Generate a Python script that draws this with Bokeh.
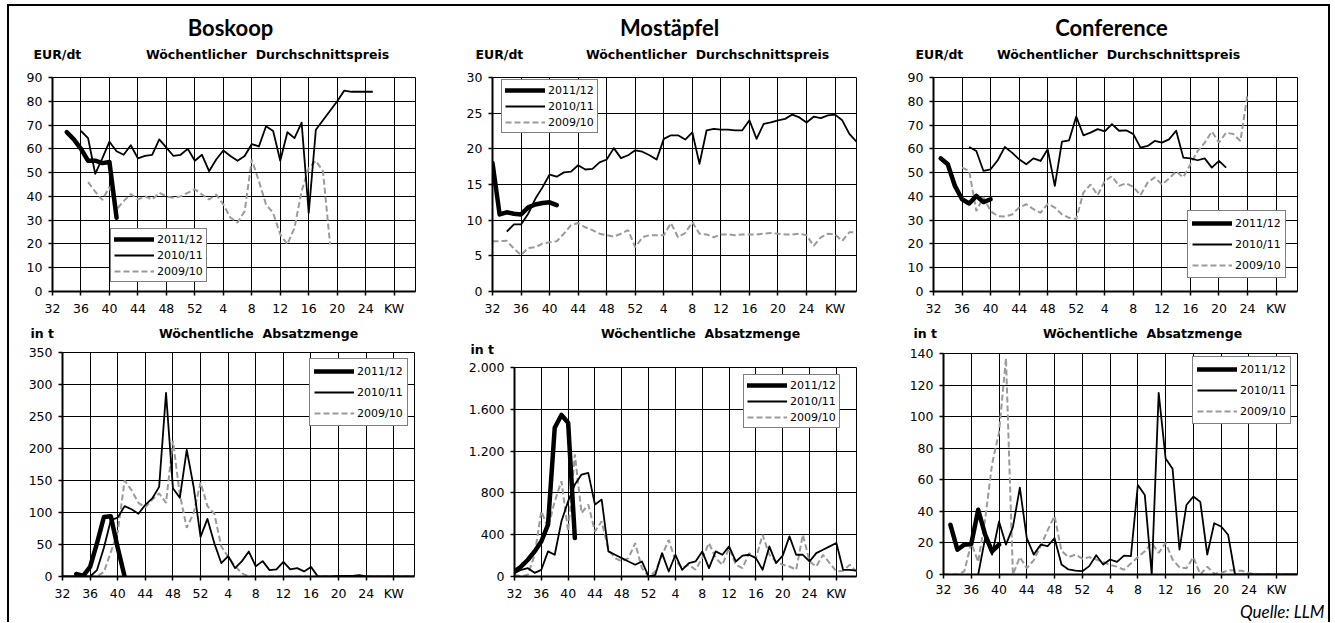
from bokeh.plotting import figure
from bokeh.models import Range1d, FixedTicker, Label, Legend, LegendItem
from bokeh.layouts import row, column
from bokeh.embed import file_html
from bokeh.resources import INLINE

# ---------------- data ----------------
x_tick_pos = [0, 4, 8, 12, 16, 20, 24, 28, 32, 36, 40, 44, 48]
x_tick_labels = ["32", "36", "40", "44", "48", "52", "4", "8", "12", "16", "20", "24", "KW"]
series_labels = ["2011/12", "2010/11", "2009/10"]

# Boskoop price (EUR/dt), series start weeks
bos_p_1112_start = 34
bos_p_1112 = [67, 64, 60, 55, 55, 54, 54.5, 31]
bos_p_1011_start = 36
bos_p_1011 = [67.5, 64.5, 49.5, 56, 63, 59, 57.5, 61.5, 56, 57, 57.5, 64, 60.5, 57, 57.5, 60, 55,
              57.5, 50.6, 55.5, 59.3, 57, 55, 57, 62, 61, 69.5, 67.5, 55, 67, 64.5, 71, 33, 68, 72, 76,
              80, 84.5, 84, 84, 84, 84]
bos_p_0910_start = 37
bos_p_0910 = [46, 42, 38.5, 44, 34.5, 38, 41, 38.7, 40, 38.7, 41.5, 40, 39.4, 40, 41.5, 43,
              40.8, 38.7, 40.8, 36.6, 31, 29, 33.8, 55.5, 46.4, 36.6, 33, 24, 19.8, 26.8, 42.2, 52,
              55, 50.6, 19.8]

# Mostaepfel price
mos_p_1112_start = 32
mos_p_1112 = [18, 10.8, 11.1, 10.9, 10.8, 11.8, 12.2, 12.4, 12.5, 12.1]
mos_p_1011_start = 34
mos_p_1011 = [8.4, 9.4, 9.4, 10.9, 13, 14.6, 16.4, 16.1, 16.7, 16.8, 17.7, 17.1, 17.2, 18.1, 18.5,
              20.1, 18.7, 19.1, 19.8, 19.6, 19.1, 18.5, 21.4, 21.9, 21.9, 21.3, 22.3, 17.9, 22.6,
              22.8, 22.7, 22.7, 22.6, 22.6, 24, 21.4, 23.5, 23.7, 24, 24.2, 24.8, 24.4, 23.7, 24.5,
              24.3, 24.7, 24.8, 24, 22.1, 21]
mos_p_0910_start = 32
mos_p_0910 = [7.05, 7.05, 7.1, 6, 5.1, 6.1, 6.2, 6.7, 6.9, 7.05, 8.1, 9.3, 9.6, 9.0, 8.6, 8.1, 7.9,
              7.7, 8.1, 8.6, 6.2, 7.6, 7.9, 7.9, 7.9, 9.6, 7.6, 8.2, 9.7, 8.1, 8.0, 7.6, 8.0, 8.0,
              7.9, 8.0, 8.0, 8.0, 8.1, 8.2, 8.1, 8.0, 8.0, 8.1, 7.9, 6.4, 7.6, 8.1, 8.0, 7.1, 8.3, 8.3]

# Conference price
con_p_1112_start = 33
con_p_1112 = [56, 53.5, 44.4, 38.8, 37, 40.2, 37.6, 38.8]
con_p_1011_start = 37
con_p_1011 = [60.8, 59.1, 50.7, 51.4, 55.2, 60.8, 58.4, 55.6, 53.5, 56, 54.9, 59.8, 44.4, 63, 63.6,
              73.6, 65.7, 66.8, 68.3, 67.3, 70.4, 67.6, 67.8, 66.2, 60.5, 61.2, 63.3, 62.6, 64, 67.6,
              56.3, 56, 55.2, 56, 52.1, 54.9, 52.1]
con_p_0910_start = 36
con_p_0910 = [52.1, 50.7, 33.8, 39.7, 33.8, 31.7, 31.5, 32.4, 35.3, 36.7, 34.6, 33.1, 36.9, 35.3,
              32.4, 31, 30.5, 41.6, 45, 40.5, 46.5, 48.5, 44.4, 45.5, 44, 40.5, 45.8, 48, 45, 47.5,
              50.5, 48, 53.5, 59, 62.6, 67.3, 62.6, 66.8, 66.2, 63.3, 83]

# Boskoop volume (t)
bos_v_1112_start = 34
bos_v_1112 = [4, 1, 15, 52, 93, 94, 45, 0]
bos_v_1011_start = 32
bos_v_1011 = [0, 0, 0, 0, 0, 10, 45, 88, 92, 110, 105, 98, 112, 122, 140, 287, 138, 123, 198, 140,
              62, 90, 52, 21, 32, 13, 24, 39, 16, 24, 10, 11, 23, 11, 13, 8, 15, 0, 0, 0, 1, 1, 1, 2,
              0, 0, 0, 0, 0, 0, 0, 0]
bos_v_0910_start = 32
bos_v_0910 = [0, 0, 0, 0, 0, 0, 7, 38, 69, 150, 135, 115, 108, 120, 130, 115, 212, 128, 76, 99, 147,
              110, 98, 47, 31, 16, 5, 0, 0, 0, 0, 0, 0, 0, 0, 0, 0, 0, 0, 0, 0, 0, 0, 0, 0, 0, 0, 0,
              0, 0, 0, 0]

# Mostaepfel volume (t)
mos_v_1112_start = 32
mos_v_1112 = [48, 96, 160, 240, 336, 496, 1424, 1546, 1472, 368]
mos_v_1011_start = 32
mos_v_1011 = [32, 64, 80, 35, 64, 240, 208, 528, 720, 880, 976, 992, 688, 736, 240, 208, 176, 144,
              112, 144, 0, 16, 224, 48, 208, 64, 128, 144, 240, 80, 240, 208, 288, 144, 200, 208,
              176, 64, 288, 128, 200, 384, 208, 208, 144, 224, 256, 288, 320, 64, 64, 56]
mos_v_0910_start = 32
mos_v_0910 = [16, 0, 16, 208, 624, 464, 720, 912, 432, 1168, 608, 688, 432, 528, 256, 176, 144, 176,
              320, 80, 0, 48, 200, 350, 150, 80, 112, 64, 176, 320, 176, 112, 272, 112, 80, 224, 176,
              400, 208, 144, 112, 96, 64, 400, 144, 96, 208, 128, 48, 56, 112, 48]

# Conference volume (t)
con_v_1112_start = 33
con_v_1112 = [31.5, 15.7, 18.9, 19.3, 41, 25.2, 14.7, 18.9]
con_v_1011_start = 37
con_v_1011 = [0, 23, 12.6, 33.6, 18.9, 30, 55, 23, 12.6, 18.9, 17.9, 23, 6.3, 3.2, 2.5, 2.1, 5.3,
              12.2, 6.3, 9.5, 8, 12, 11.6, 56.7, 50.4, 0, 115, 73.5, 67, 15.7, 44, 49.4, 46, 12.6,
              32.5, 30.4, 25.2, 0, 0, 0, 0, 0, 0, 0, 0, 0, 0]
con_v_0910_start = 32
con_v_0910 = [0, 0, 0, 2, 20, 8, 35, 70, 90, 137, 0, 11, 4, 9, 18, 28, 37, 15, 11, 12.6, 10, 11, 9.5,
              8, 6, 5, 3, 7, 11, 14.7, 20, 13.7, 20, 9.5, 4.5, 4, 11, 0, 5, 0.5, 1, 2.7, 2.5, 2.3, 1,
              0, 0, 0, 0, 0, 0, 0]

mos_v_tick_labels = {0: "0", 400: "400", 800: "800", 1200: "1.200", 1600: "1.600", 2000: "2.000"}

# ---------------- helpers ----------------
GRAY = "#9a9a9a"
TICK_FONT = "DejaVu Sans"


def week_index(w):
    return w - 32 if w >= 32 else w + 20


def xs(start, vals):
    s = week_index(start)
    return list(range(s, s + len(vals)))


def no_align(p):
    if "frame_align" in p.properties():
        p.frame_align = False


def make_fig(w, h, bl, br, bt, bb, ymax, ystep, ylab=None, xstand=5):
    p = figure(width=w, height=h, output_backend="svg", toolbar_location=None,
               x_range=Range1d(0, 51), y_range=Range1d(0, ymax),
               min_border_left=bl, min_border_right=br, min_border_top=bt, min_border_bottom=bb)
    no_align(p)
    p.title.visible = False
    p.xaxis.ticker = FixedTicker(ticks=x_tick_pos)
    p.xaxis.major_label_overrides = {k: v for k, v in zip(x_tick_pos, x_tick_labels)}
    yt = list(range(0, ymax + 1, ystep))
    p.yaxis.ticker = FixedTicker(ticks=yt)
    if ylab:
        p.yaxis.major_label_overrides = ylab
    for ax in (p.xaxis[0], p.yaxis[0]):
        ax.axis_line_width = 2
        ax.axis_line_color = "black"
        ax.major_tick_out = 4
        ax.major_tick_in = 0
        ax.major_tick_line_width = 1.5
        ax.major_tick_line_color = "black"
        ax.minor_tick_line_color = None
        ax.major_label_text_font = TICK_FONT
        ax.major_label_text_font_size = "12.5px"
        ax.major_label_text_color = "black"
        ax.major_label_standoff = 6
    p.xaxis[0].major_label_standoff = xstand
    p.grid.grid_line_color = "black"
    p.grid.grid_line_width = 1
    p.grid.grid_line_alpha = 1
    p.outline_line_color = "black"
    p.outline_line_width = 1
    p.background_fill_color = "white"
    p.border_fill_color = "white"
    return p


def text_fig(w, h):
    p = figure(width=w, height=h, output_backend="svg", toolbar_location=None,
               x_range=Range1d(0, w), y_range=Range1d(h, 0),
               x_axis_type=None, y_axis_type=None,
               min_border_left=0, min_border_right=0, min_border_top=0, min_border_bottom=0)
    no_align(p)
    p.title.visible = False
    p.outline_line_color = None
    p.background_fill_color = "white"
    p.border_fill_color = "white"
    return p


def add_series(p, data, leg_loc, tall):
    (s1, v1), (s2, v2), (s3, v3) = data
    r3 = p.line(xs(s3, v3), v3, line_color=GRAY, line_width=2, line_dash="6 3")
    r2 = p.line(xs(s2, v2), v2, line_color="black", line_width=1.8, line_join="round")
    r1 = p.line(xs(s1, v1), v1, line_color="black", line_width=4.5, line_join="round", line_cap="round")
    items = [LegendItem(label=series_labels[0], renderers=[r1]),
             LegendItem(label=series_labels[1], renderers=[r2]),
             LegendItem(label=series_labels[2], renderers=[r3])]
    leg = Legend(items=items, location=leg_loc, margin=0,
                 border_line_color="black", border_line_width=1,
                 background_fill_color="white", background_fill_alpha=1,
                 label_text_font=TICK_FONT, label_text_font_size="11px", label_text_color="black",
                 glyph_width=40, label_standoff=3,
                 glyph_height=16 if tall else 14, label_height=16 if tall else 14,
                 spacing=5 if tall else 2, padding=4 if tall else 3)
    p.add_layout(leg)


def add_text(p, x, y, text, size, font=TICK_FONT, style="bold", align="left", baseline="middle"):
    p.add_layout(Label(x=x, y=y, text=text,
                       text_font=font, text_font_size=size, text_font_style=style,
                       text_align=align, text_baseline=baseline, text_color="black"))


SUB_P = "Wöchentlicher\u00a0 Durchschnittspreis"
SUB_V = "Wöchentliche\u00a0 Absatzmenge"
SUB_SIZE = "12.5px"

# ---------------- top row: prices ----------------
h_tl = text_fig(439, 62)
add_text(h_tl, 221, 21, "Boskoop", "22px", font="Lato", align="center")
add_text(h_tl, 24, 48, "EUR/dt", SUB_SIZE)
add_text(h_tl, 258, 48, SUB_P, SUB_SIZE, align="center")
tl = make_fig(439, 250, 43, 33, 9, 27, 90, 10)
add_series(tl, [(bos_p_1112_start, bos_p_1112), (bos_p_1011_start, bos_p_1011),
                (bos_p_0910_start, bos_p_0910)], (58, 9), False)

h_tm = text_fig(440, 62)
add_text(h_tm, 221, 21, "Mostäpfel", "22px", font="Lato", align="center")
add_text(h_tm, 27, 48, "EUR/dt", SUB_SIZE)
add_text(h_tm, 259, 48, SUB_P, SUB_SIZE, align="center")
tm = make_fig(440, 250, 44, 32, 9, 27, 30, 5)
add_series(tm, [(mos_p_1112_start, mos_p_1112), (mos_p_1011_start, mos_p_1011),
                (mos_p_0910_start, mos_p_0910)], (9, 158), False)

h_tr = text_fig(440, 62)
add_text(h_tr, 223, 21, "Conference", "22px", font="Lato", align="center")
add_text(h_tr, 27, 48, "EUR/dt", SUB_SIZE)
add_text(h_tr, 230, 48, SUB_P, SUB_SIZE, align="center")
tr = make_fig(440, 250, 45, 31, 9, 27, 90, 10)
add_series(tr, [(con_p_1112_start, con_p_1112), (con_p_1011_start, con_p_1011),
                (con_p_0910_start, con_p_0910)], (254, 13), True)

# ---------------- bottom row: volumes ----------------
h_bl = text_fig(439, 25)
add_text(h_bl, 21, 15, "in t", SUB_SIZE)
add_text(h_bl, 249, 15, SUB_V, SUB_SIZE, align="center")
bl = make_fig(439, 279, 53, 34, 9, 46, 350, 50)
add_series(bl, [(bos_v_1112_start, bos_v_1112), (bos_v_1011_start, bos_v_1011),
                (bos_v_0910_start, bos_v_0910)], (247, 150), True)

h_bm = text_fig(440, 40)
add_text(h_bm, 252, 15, SUB_V, SUB_SIZE, align="center")
add_text(h_bm, 22, 31, "in t", SUB_SIZE)
bm = make_fig(440, 264, 66, 32, 9, 46, 2000, 400, mos_v_tick_labels)
add_series(bm, [(mos_v_1112_start, mos_v_1112), (mos_v_1011_start, mos_v_1011),
                (mos_v_0910_start, mos_v_0910)], (229, 148), False)

h_br = text_fig(440, 26)
add_text(h_br, 25, 15, "in t", SUB_SIZE)
add_text(h_br, 254, 15, SUB_V, SUB_SIZE, align="center")
br = make_fig(440, 255, 55, 31, 9, 23, 140, 20, xstand=3)
add_series(br, [(con_v_1112_start, con_v_1112), (con_v_1011_start, con_v_1011),
                (con_v_0910_start, con_v_0910)], (249, 150), True)
f_br = text_fig(440, 23)
add_text(f_br, 436, 12, "Quelle: LLM", "17px", font="Lato", style="italic", align="right")

top = row(column(h_tl, tl), column(h_tm, tm), column(h_tr, tr))
bottom = row(column(h_bl, bl), column(h_bm, bm), column(h_br, br, f_br))
layout = column(top, bottom, margin=(4, 0, 0, 7),
                styles={"border-top": "2px solid black", "border-left": "2px solid black",
                        "border-right": "2px solid black"})

open("out.html", "w").write(file_html(layout, INLINE))
